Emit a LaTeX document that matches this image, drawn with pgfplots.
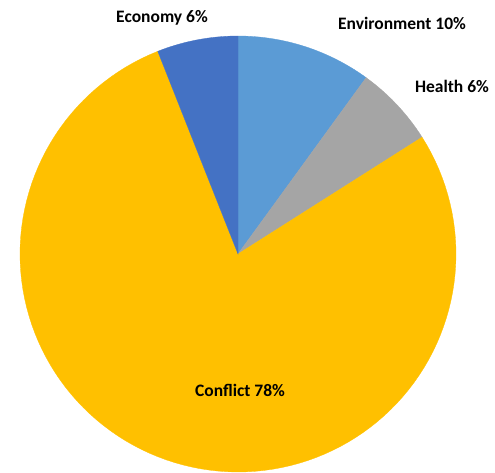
\documentclass[border=0pt]{standalone}
\usepackage{pgfplots}
\pgfplotsset{compat=1.18}
\usepackage{fontspec}
\setmainfont{Carlito}
\definecolor{cEnv}{HTML}{5B9BD5}
\definecolor{cHea}{HTML}{A5A5A5}
\definecolor{cCon}{HTML}{FFC000}
\definecolor{cEco}{HTML}{4472C4}
% percentages: Environment 10, Health 6, Conflict 78, Economy 6 (clockwise from 12 o'clock)
\def\cx{238}\def\cy{218}\def\rr{218}
\newcommand\slice[3]{% #1 cumulative start pct, #2 pct, #3 colour
  \pgfmathsetmacro\aS{90-3.6*(#1)}%
  \pgfmathsetmacro\aE{90-3.6*(#1+#2)}%
  \addplot[fill=#3, draw=#3, line width=0.3pt, domain=\aE:\aS, samples=120, variable=\t]
    ({\cx+\rr*cos(\t)},{\cy+\rr*sin(\t)}) -- (axis cs:\cx,\cy) -- cycle;
}
\begin{document}
\begin{tikzpicture}
\begin{axis}[width=495pt, height=472pt, scale only axis, xmin=0, xmax=495, ymin=0, ymax=472,
  axis lines=none, clip=false, anchor=south west, at={(0,0)}]
\slice{0}{10}{cEnv}
\slice{10}{6}{cHea}
\slice{16}{78}{cCon}
\slice{94}{6}{cEco}
\node[font=\bfseries\fontsize{17.5}{20}\selectfont] at (axis cs:162,454) {Economy 6\%};
\node[font=\bfseries\fontsize{17.5}{20}\selectfont] at (axis cs:402,449) {Environment 10\%};
\node[font=\bfseries\fontsize{17.5}{20}\selectfont] at (axis cs:452,386) {Health 6\%};
\node[font=\bfseries\fontsize{17.5}{20}\selectfont] at (axis cs:240,82) {Conflict 78\%};
\end{axis}
\pgfresetboundingbox
\path[use as bounding box] (0,0) rectangle (495pt,472pt);
\end{tikzpicture}
\end{document}
